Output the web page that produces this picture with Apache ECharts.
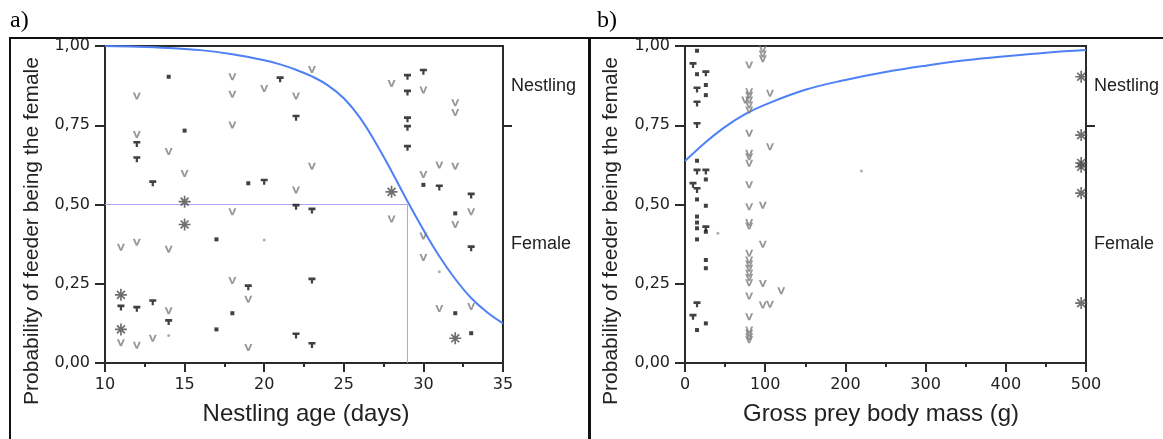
<!DOCTYPE html>
<html>
<head>
<meta charset="utf-8">
<script src="https://cdn.jsdelivr.net/npm/echarts@6/dist/echarts.min.js"></script>
<style>
html,body{margin:0;padding:0;background:#fff;}
#chart{width:1163px;height:439px;}
</style>
</head>
<body>
<div id="chart"></div>
<script>
// ---------- Panel a: nestling age ----------
var ageTicks = [10, 15, 20, 25, 30, 35];
var probTicks = [0, 0.25, 0.5, 0.75, 1];
var sideLabelValues = [0.375, 0.875];
var sideLabelTexts = ['Female', 'Nestling'];
var sideTickValues = [0.75];

var curveA = [[10,1.0],[12,0.998],[14,0.994],[16,0.987],[18,0.974],[20,0.955],[21,0.942],[22,0.925],[23,0.904],[24,0.876],[25,0.835],[26,0.775],[27,0.695],[28,0.605],[29,0.51],[30,0.42],[31,0.337],[32,0.265],[33,0.205],[34,0.16],[35,0.125]];
var refLineA = [[10,0.5],[29,0.5],[29,0]];

var vA = [[11,0.365],[12,0.381],[14,0.359],[12,0.842],[18,0.903],[18,0.848],[20,0.866],[22,0.842],[18,0.751],[12,0.721],[14,0.667],[15,0.598],[22,0.546],[18,0.477],[18,0.260],[19,0.201],[14,0.165],[11,0.064],[12,0.056],[13,0.078],[19,0.049],
          [23,0.926],[28,0.882],[30,0.861],[32,0.821],[32,0.790],[23,0.621],[31,0.625],[32,0.621],[30,0.595],[28,0.454],[33,0.477],[32,0.437],[30,0.401],[30,0.333],[31,0.172],[33,0.178]];
var tA = [[21,0.895],[22,0.774],[12,0.691],[12,0.643],[13,0.567],[20,0.572],[22,0.493],[19,0.239],[11,0.175],[12,0.171],[13,0.192],[14,0.129],[22,0.087],
          [29,0.903],[29,0.853],[30,0.919],[29,0.769],[29,0.742],[29,0.679],[31,0.554],[33,0.528],[23,0.481],[33,0.362],[23,0.260],[23,0.057]];
var sqA = [[14,0.903],[15,0.733],[19,0.567],[17,0.390],[18,0.157],[17,0.106],[30,0.562],[32,0.472],[32,0.157],[33,0.094]];
var dotA = [[20,0.388],[14,0.087],[31,0.288]];
var astA = [[15,0.509],[15,0.437],[11,0.215],[11,0.106],[28,0.540],[32,0.078]];

// ---------- Panel b: gross prey body mass ----------
var massTicks = [0, 100, 200, 300, 400, 500];
var curveB = [[0,0.637],[25,0.695],[50,0.745],[75,0.785],[100,0.815],[150,0.862],[200,0.893],[250,0.918],[300,0.938],[350,0.955],[400,0.968],[450,0.979],[500,0.987]];

var vB = [[80,0.940],[80,0.856],[80,0.845],[80,0.830],[80,0.814],[80,0.798],[80,0.725],[80,0.662],[80,0.651],[80,0.630],[80,0.562],[80,0.493],[80,0.443],[80,0.432],[80,0.346],[80,0.325],[80,0.312],[80,0.299],[80,0.283],[80,0.270],[80,0.253],[80,0.211],[80,0.146],[80,0.104],[80,0.094],[80,0.083],[80,0.073],
          [75,0.830],[97,0.99],[97,0.975],[97,0.96],[106,0.851],[106,0.682],[97,0.498],[97,0.375],[97,0.251],[97,0.183],[106,0.185],[120,0.228]];
var tB = [[10,0.940],[26,0.914],[15,0.863],[15,0.819],[15,0.751],[15,0.604],[26,0.604],[10,0.562],[15,0.546],[26,0.425],[15,0.185],[10,0.146]];
var sqB = [[15,0.985],[15,0.911],[26,0.877],[26,0.845],[15,0.638],[26,0.579],[15,0.516],[26,0.496],[15,0.462],[15,0.443],[15,0.425],[26,0.414],[15,0.390],[26,0.325],[26,0.299],[26,0.125],[15,0.104]];
var dotB = [[41,0.409],[220,0.606]];
var astB = [[494,0.903],[494,0.719],[494,0.631],[494,0.619],[494,0.536],[494,0.189]];

// ---------- styles ----------
var V_SYM = 'path://M0,0 L2.6,0 L5,7 L7.4,0 L10,0 L6.2,10 L3.8,10 Z';
var T_SYM = 'path://M0,0 L10,0 L10,4 L6.6,4 L6.6,9 L3.4,9 L3.4,4 L0,4 Z';
var AST_SYM = 'path://M4.3,0 L5.7,0 L5.7,10 L4.3,10 Z M0,4.3 L10,4.3 L10,5.7 L0,5.7 Z M1.2,2.2 L2.2,1.2 L8.8,7.8 L7.8,8.8 Z M7.8,1.2 L8.8,2.2 L2.2,8.8 L1.2,7.8 Z';
var AXIS_COLOR = '#2b2b2b';
var TEXT_COLOR = '#222';
var TICK_FONT = 'DejaVu Sans';
var LABEL_FONT = 'Liberation Sans';

function probFmt(v){ return v.toFixed(2).replace('.', ','); }
function sideFmt(v){ var i = sideLabelValues.indexOf(v); return i >= 0 ? sideLabelTexts[i] : ''; }

function xAxisCfg(grid, ticks){
  return {
    type:'value', gridIndex:grid, min:ticks[0], max:ticks[ticks.length-1], interval:ticks[1]-ticks[0],
    axisLine:{show:true, onZero:false, lineStyle:{color:AXIS_COLOR, width:2}},
    axisTick:{show:true, inside:false, length:9, lineStyle:{color:AXIS_COLOR, width:2}},
    minorTick:{show:true, splitNumber:2, length:4, lineStyle:{color:AXIS_COLOR, width:2}},
    axisLabel:{color:TEXT_COLOR, fontFamily:TICK_FONT, fontSize:16, margin:14},
    splitLine:{show:false}
  };
}
function yAxisLeft(grid){
  return {
    type:'value', gridIndex:grid, min:0, max:1, interval:0.25, position:'left',
    axisLine:{show:true, lineStyle:{color:AXIS_COLOR, width:2}},
    axisTick:{show:true, length:10, lineStyle:{color:AXIS_COLOR, width:2}},
    axisLabel:{color:TEXT_COLOR, fontFamily:TICK_FONT, fontSize:16, margin:15, formatter:probFmt},
    splitLine:{show:false}
  };
}
function yAxisRight(grid){
  return {
    type:'value', gridIndex:grid, min:0, max:1, position:'right',
    axisLine:{show:true, lineStyle:{color:AXIS_COLOR, width:2}},
    axisTick:{show:true, length:9, customValues:sideTickValues, lineStyle:{color:AXIS_COLOR, width:2}},
    axisLabel:{show:true, customValues:sideLabelValues, formatter:sideFmt, color:TEXT_COLOR, fontFamily:LABEL_FONT, fontSize:18, margin:8},
    splitLine:{show:false}
  };
}
function scatter(xi, yi, data, sym, size, color, z){
  return {type:'scatter', xAxisIndex:xi, yAxisIndex:yi, data:data, symbol:sym, symbolSize:size,
          itemStyle:{color:color}, clip:false, silent:true, z:z||3};
}
function line(xi, yi, data, color, width, smooth){
  return {type:'line', xAxisIndex:xi, yAxisIndex:yi, data:data, showSymbol:false, symbol:'none', smooth:smooth,
          lineStyle:{color:color, width:width}, silent:true, z:2};
}

var chart = echarts.init(document.getElementById('chart'), null, {renderer:'canvas'});
chart.setOption({
  animation:false,
  backgroundColor:'#ffffff',
  grid:[
    {left:105, top:46, width:398, height:317, show:true, borderColor:AXIS_COLOR, borderWidth:2, backgroundColor:'transparent'},
    {left:685, top:46, width:401, height:317, show:true, borderColor:AXIS_COLOR, borderWidth:2, backgroundColor:'transparent'}
  ],
  xAxis:[ xAxisCfg(0, ageTicks), xAxisCfg(1, massTicks) ],
  yAxis:[ yAxisLeft(0), yAxisRight(0), yAxisLeft(1), yAxisRight(1) ],
  series:[
    line(0,0, refLineA, '#aaa6f2', 1, false),
    line(0,0, curveA, '#4e80f6', 2, 0.4),
    scatter(0,0, vA, V_SYM, [8,7], '#7d7d7d'),
    scatter(0,0, tA, T_SYM, [7,6], '#111'),
    scatter(0,0, sqA, 'rect', [4,4], '#111'),
    scatter(0,0, dotA, 'circle', 3, '#999'),
    scatter(0,0, astA, AST_SYM, [12,12], '#4a4a4a'),
    line(1,2, curveB, '#4e80f6', 2, 0.4),
    scatter(1,2, vB, V_SYM, [8,7], '#7d7d7d'),
    scatter(1,2, tB, T_SYM, [7,6], '#111'),
    scatter(1,2, sqB, 'rect', [4,4], '#111'),
    scatter(1,2, dotB, 'circle', 3, '#999'),
    scatter(1,2, astB, AST_SYM, [12,12], '#4a4a4a')
  ],
  graphic:[
    {type:'rect', shape:{x:9, y:37, width:1154, height:2}, style:{fill:'#111'}, silent:true},
    {type:'rect', shape:{x:9, y:37, width:2, height:402}, style:{fill:'#111'}, silent:true},
    {type:'rect', shape:{x:588, y:37, width:3, height:402}, style:{fill:'#111'}, silent:true},
    {type:'text', x:10, y:21, style:{text:'a)', font:'24px "Liberation Serif"', fill:'#000', align:'left', verticalAlign:'middle'}},
    {type:'text', x:597, y:21, style:{text:'b)', font:'24px "Liberation Serif"', fill:'#000', align:'left', verticalAlign:'middle'}},
    {type:'text', x:32, y:231, rotation:Math.PI/2, style:{text:'Probability of feeder being the female', font:'21px "Liberation Sans"', fill:TEXT_COLOR, align:'center', verticalAlign:'middle'}},
    {type:'text', x:611, y:231, rotation:Math.PI/2, style:{text:'Probability of feeder being the female', font:'21px "Liberation Sans"', fill:TEXT_COLOR, align:'center', verticalAlign:'middle'}},
    {type:'text', x:306, y:414, style:{text:'Nestling age (days)', font:'24px "Liberation Sans"', fill:TEXT_COLOR, align:'center', verticalAlign:'middle'}},
    {type:'text', x:881, y:414, style:{text:'Gross prey body mass (g)', font:'24px "Liberation Sans"', fill:TEXT_COLOR, align:'center', verticalAlign:'middle'}}
  ]
});
</script>
</body>
</html>
